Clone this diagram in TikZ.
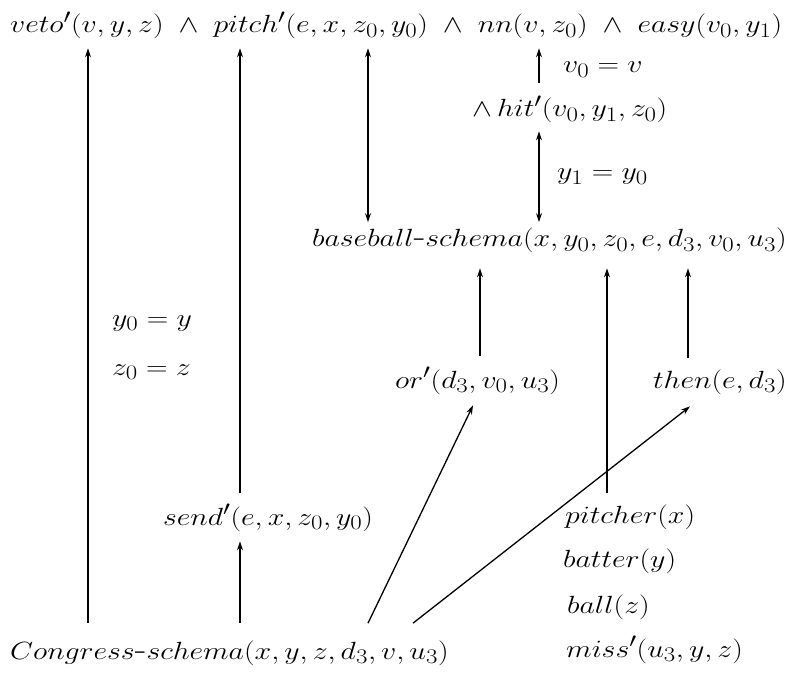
\documentclass[tikz,border=0pt]{standalone}
\usepackage{graphicx}
\usetikzlibrary{arrows.meta,calc}
\newcommand{\W}[1]{\scalebox{1.2}[1]{$#1$}}
\begin{document}
\begin{tikzpicture}[x=1pt,y=-1pt,
  lbl/.style={anchor=base west,inner sep=0pt,font=\fontsize{32}{38}\selectfont},
  arr/.style={line width=1.3pt,-{Stealth[length=9pt,width=6pt]}},
  darr/.style={line width=1.3pt,{Stealth[length=9pt,width=6pt]}-{Stealth[length=9pt,width=6pt]}},
  ln/.style={line width=1.3pt}]
\useasboundingbox (0,0) rectangle (792,676);
\node[lbl] (top) at (10,33) {\W{veto'(v,y,z)\;\wedge\;pitch'(e,x,z_0,y_0)\;\wedge\;nn(v,z_0)\;\wedge\;easy(v_0,y_1)}};
\node[lbl] (vlab) at (563,73) {\W{v_0=v}};
\node[lbl] (hit) at (472,117) {\W{\wedge\,hit'(v_0,y_1,z_0)}};
\node[lbl] (ylab) at (557,180) {\W{y_1=y_0}};
\node[lbl] (base) at (312,247) {\W{baseball\mbox{-}schema(x,y_0,z_0,e,d_3,v_0,u_3)}};
\node[lbl] (y0) at (112,326) {\W{y_0=y}};
\node[lbl] (z0) at (112,375) {\W{z_0=z}};
\node[lbl] (or) at (395,388) {\W{or'(d_3,v_0,u_3)}};
\node[lbl] (then) at (653,388) {\W{then(e,d_3)}};
\node[lbl] (send) at (163,525) {\W{send'(e,x,z_0,y_0)}};
\node[lbl] (pitcher) at (565,523) {\W{pitcher(x)}};
\node[lbl] (batter) at (563,567) {\W{batter(y)}};
\node[lbl] (ball) at (567,613) {\W{ball(z)}};
\node[lbl] (miss) at (566,657) {\W{miss'(u_3,y,z)}};
\node[lbl] (cong) at (10,659) {\W{Congress\mbox{-}schema(x,y,z,d_3,v,u_3)}};
\coordinate (xa) at (88,0);
\coordinate (xb) at (240,0);
\coordinate (xc) at (368,0);
\coordinate (xd) at (539,0);
\coordinate (xe) at (480,0);
\coordinate (xf) at (607,0);
\coordinate (xg) at (688,0);
\coordinate (xh) at (413,0);
\coordinate (xi) at (473,0);
\coordinate (xj) at (690,0);
\draw[arr,shorten <=17pt,shorten >=9pt] (cong.north -| xa) -- (top.south -| xa);
\draw[arr,shorten <=11pt,shorten >=9pt] (send.north -| xb) -- (top.south -| xb);
\draw[arr,shorten <=17pt,shorten >=10pt] (cong.north -| xb) -- (send.south -| xb);
\draw[darr,shorten <=9pt,shorten >=6pt] (top.south -| xc) -- (base.north -| xc);
\draw[arr,shorten <=13pt,shorten >=9pt] (hit.north -| xd) -- (top.south -| xd);
\draw[darr,shorten <=8pt,shorten >=6pt] (hit.south -| xd) -- (base.north -| xd);
\draw[arr,shorten <=11pt,shorten >=15pt] (or.north -| xe) -- (base.south -| xe);
\draw[arr,shorten <=11pt,shorten >=15pt] (then.north -| xg) -- (base.south -| xg);
\draw[arr,shorten <=11pt,shorten >=15pt] (pitcher.north -| xf) -- (base.south -| xf);
\draw[arr] ($(cong.north -| xc)+(0,-17)$) -- ($(or.south -| xi)+(0,11)$);
\draw[arr] ($(cong.north -| xh)+(0,-17)$) -- ($(then.south -| xj)+(0,12)$);
\end{tikzpicture}
\end{document}
